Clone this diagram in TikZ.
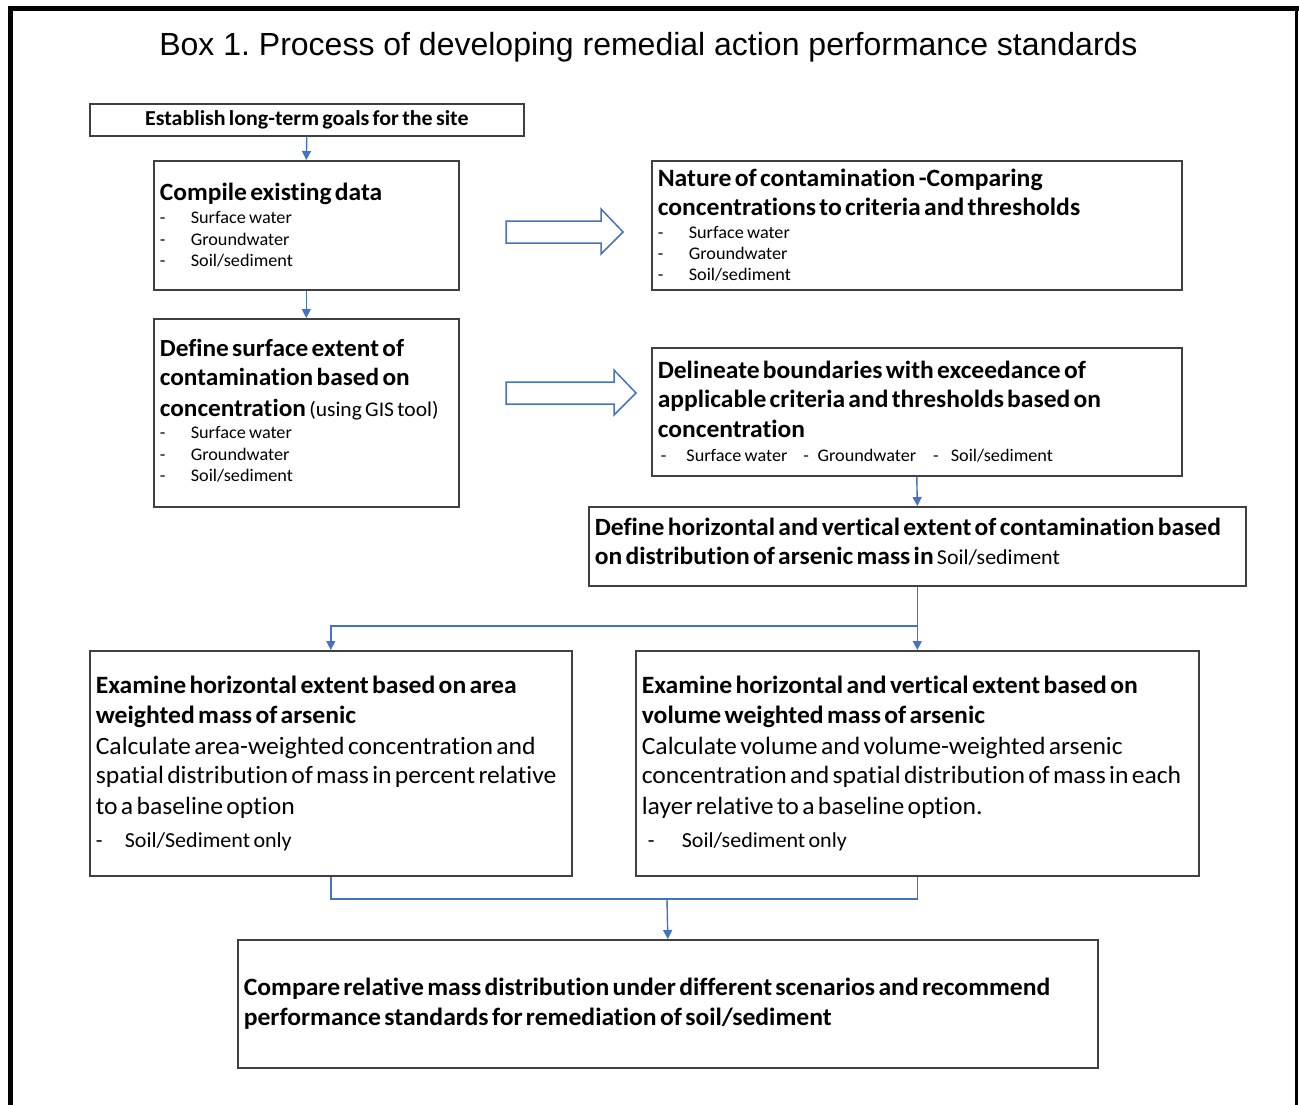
\documentclass[tikz,border=0pt]{standalone}
\usepackage{fontspec}
\setmainfont{Carlito}[Ligatures={NoCommon}, FakeStretch=1.03]
\newfontfamily\arialfont{Liberation Sans}
\usetikzlibrary{arrows.meta}
\definecolor{boxgray}{HTML}{404040}
\definecolor{arrowblue}{HTML}{4472C4}
\newcommand\Lline[3]{{\noindent\fontsize{#1}{#2}\selectfont\mbox{#3}\par}}
\newcommand\dashitem[2]{\makebox[#1][l]{-}#2}
\frenchspacing
\begin{document}
\begin{tikzpicture}[x=1pt,y=-1pt,
  box/.style={draw=boxgray, line width=1.6pt, rectangle, anchor=north west,
    inner xsep=6pt, inner ysep=0pt, align=left},
  conn/.style={draw=arrowblue, line width=1.4pt, -{Triangle[length=9pt,width=9pt]}},
  plainline/.style={draw=arrowblue, line width=1.4pt},
  blockarrow/.style={draw=arrowblue, line width=1.5pt, fill=white, line join=miter},
  frame/.style={draw=black, line cap=rect}]
\useasboundingbox (0,0) rectangle (1299,1105);
% outer frame
\draw[frame, line width=5pt] (10.5,1112) -- (10.5,9);
\draw[frame, line width=5pt] (10.5,9) -- (1296,9);
\draw[frame, line width=3pt] (1296,9) -- (1296,1112);
% title
\node[anchor=base, inner sep=0pt] (title) at (648.5,55.5)
  {\arialfont\fontsize{32}{38}\selectfont Box 1. Process of developing remedial action performance standards};
% boxes
\node[box, align=center, minimum width=434pt, minimum height=32pt, text width=422pt] (establish) at (89,103)
  {\fontsize{21.3}{25}\selectfont\bfseries Establish long-term goals for the site};
\node[box, minimum width=305pt, minimum height=129pt, text width=293pt] (compile) at (153,160) {%
  \Lline{24.8}{25}{\bfseries Compile existing data}%
  \Lline{17.7}{23}{\dashitem{31pt}{Surface water}}%
  \Lline{17.7}{21.3}{\dashitem{31pt}{Groundwater}}%
  \Lline{17.7}{21.3}{\dashitem{31pt}{Soil/sediment}}};
\node[box, minimum width=530pt, minimum height=129pt, text width=518pt] (nature) at (651,160) {%
  \Lline{24.9}{29}{\bfseries Nature of contamination -Comparing}%
  \Lline{24.9}{29}{\bfseries concentrations to criteria and thresholds}%
  \Lline{17.7}{23}{\dashitem{31pt}{Surface water}}%
  \Lline{17.7}{21.3}{\dashitem{31pt}{Groundwater}}%
  \Lline{17.7}{21.3}{\dashitem{31pt}{Soil/sediment}}};
\node[box, minimum width=305pt, minimum height=188pt, text width=293pt] (defsurf) at (153,318) {%
  \Lline{24.6}{30}{\bfseries Define surface extent of}%
  \Lline{24.6}{29.5}{\bfseries contamination based on}%
  \Lline{24.6}{31}{\bfseries concentration \mdseries\fontsize{20.9}{31}\selectfont(using GIS tool)}%
  \Lline{17.7}{22}{\dashitem{31pt}{Surface water}}%
  \Lline{17.7}{21.3}{\dashitem{31pt}{Groundwater}}%
  \Lline{17.7}{21.3}{\dashitem{31pt}{Soil/sediment}\rule[-5pt]{0pt}{5pt}}};
\node[box, minimum width=530pt, minimum height=128pt, text width=518pt] (delin) at (651,347) {%
  \Lline{24.8}{29}{\bfseries Delineate boundaries with exceedance of}%
  \Lline{24.8}{29}{\bfseries applicable criteria and thresholds based on}%
  \Lline{24.8}{30}{\bfseries concentration}%
  \Lline{17.7}{24.5}{\hspace{3pt}-\hspace{20pt}Surface water\hspace{16pt}-\hspace{8.5pt}Groundwater\hspace{17pt}-\hspace{12pt}Soil/sediment}};
\node[box, minimum width=657pt, minimum height=79pt, text width=645pt] (defh) at (588,506) {%
  \Lline{24.8}{29}{\bfseries Define horizontal and vertical extent of contamination based}%
  \Lline{24.8}{29}{\bfseries on distribution of arsenic mass in \mdseries\fontsize{21.3}{29}\selectfont Soil/sediment\rule[-11pt]{0pt}{11pt}}};
\node[box, minimum width=482pt, minimum height=225pt, text width=470pt] (exL) at (89,650) {%
  \Lline{24.9}{30}{\bfseries Examine horizontal extent based on area}%
  \Lline{24.9}{30}{\bfseries weighted mass of arsenic}%
  \Lline{24.9}{31}{Calculate area-weighted concentration and}%
  \Lline{24.9}{29.5}{spatial distribution of mass in percent relative}%
  \Lline{24.9}{30.5}{to a baseline option}%
  \Lline{21.4}{33}{\dashitem{29pt}{Soil/Sediment only}}};
\node[box, minimum width=563pt, minimum height=225pt, text width=551pt] (exR) at (635,650) {%
  \Lline{24.9}{30}{\bfseries Examine horizontal and vertical extent based on}%
  \Lline{24.9}{30}{\bfseries volume weighted mass of arsenic}%
  \Lline{24.9}{31}{Calculate volume and volume-weighted arsenic}%
  \Lline{24.9}{29.5}{concentration and spatial distribution of mass in each}%
  \Lline{24.9}{30.5}{layer relative to a baseline option.}%
  \Lline{21.4}{33}{\hspace{6pt}\dashitem{34pt}{Soil/sediment only}}};
\node[box, minimum width=860pt, minimum height=128pt, text width=848pt] (final) at (237,939) {%
  \Lline{24.9}{30}{\bfseries Compare relative mass distribution under different scenarios and recommend}%
  \Lline{24.9}{30}{\bfseries performance standards for remediation of soil/sediment}};
% block arrows
\draw[blockarrow] (506,221) -- (601,221) -- (601,209) -- (623,232) -- (601,254) -- (601,243) -- (506,243) -- cycle;
\draw[blockarrow] (506,382) -- (614,382) -- (614,370) -- (636,393) -- (614,415) -- (614,404) -- (506,404) -- cycle;
% connectors
\draw[conn] (establish.south) -- (compile.north);
\draw[conn] (compile.south) -- (defsurf.north);
\draw[conn] (delin.south) -- (defh.north);
\coordinate (split) at (916.5,626);
\coordinate (merge) at (667,899);
\draw[conn] (defh.south) -- (exR.north);
\draw[conn] (split) -| (exL.north);
\draw[plainline] (exL.south) |- (merge);
\draw[plainline] (exR.south) |- (merge);
\draw[conn] (merge) -- (final.north);
\end{tikzpicture}
\end{document}
